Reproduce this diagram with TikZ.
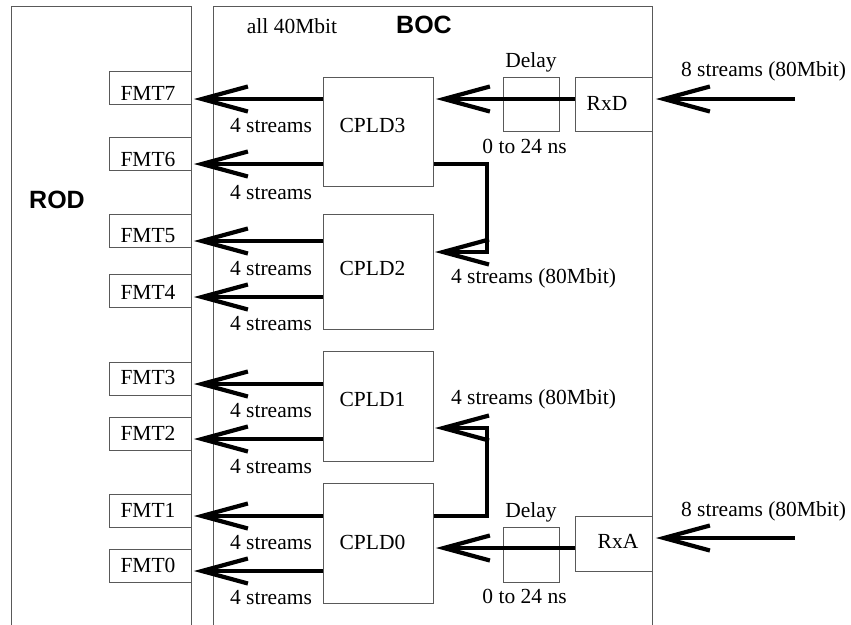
\documentclass[tikz,border=0pt]{standalone}
\usepackage{fontspec}
\setmainfont{Liberation Serif}
\newfontfamily\headfont{Liberation Sans}
\usetikzlibrary{arrows.meta}

\begin{document}
\begin{tikzpicture}[x=1pt,y=-1pt,
  frame/.style={draw=black!65, line width=0.9pt, inner sep=0pt, anchor=north west},
  txt/.style={inner sep=0pt, anchor=base, font=\fontsize{21.5}{24}\selectfont},
  head/.style={inner sep=0pt, anchor=base, font=\headfont\bfseries\fontsize{25}{28}\selectfont},
  flow/.style={line width=4pt, line join=miter,
    -{Straight Barb[length=46pt,width=25pt,line width=4.2pt]}},
]
\path[use as bounding box] (0,0) rectangle (851,624);

% outer boards (open towards the bottom edge)
\node[frame, minimum width=180pt, minimum height=650pt] (rod) at (11,6) {};
\node[frame, minimum width=439pt, minimum height=650pt] (boc) at (213,6) {};
\node[head] (rodlab) at (57,208) {ROD};
\node[head] (boclab) at (424,33) {BOC};
\node[txt] (clk) at (292,33) {all 40Mbit};

% formatter inputs on the ROD
\foreach \n/\top in {7/71,6/137,5/214,4/274,3/362,2/417,1/494,0/549}
  \node[frame, minimum width=82pt, minimum height=33pt] (fmt\n) at (109,\top) {};
\foreach \n/\bl in {7/100,6/166,5/242,4/299,3/384,2/440,1/517,0/572}
  \node[txt] (fmtlab\n) at (148,\bl) {FMT\n};

% CPLDs
\node[frame, minimum width=110pt, minimum height=109pt] (cpld3) at (323,77) {};
\node[frame, minimum width=110pt, minimum height=115pt] (cpld2) at (323,214) {};
\node[frame, minimum width=110pt, minimum height=110pt] (cpld1) at (323,351) {};
\node[frame, minimum width=110pt, minimum height=120pt] (cpld0) at (323,483) {};
\node[txt] (cpldlab3) at (372.5,132) {CPLD3};
\node[txt] (cpldlab2) at (372.5,275) {CPLD2};
\node[txt] (cpldlab1) at (372.5,406) {CPLD1};
\node[txt] (cpldlab0) at (372.5,549) {CPLD0};

% receivers and delay stages
\node[frame, minimum width=56pt, minimum height=54pt] (dlyd) at (503,77) {};
\node[frame, minimum width=77pt, minimum height=54pt] (rxd) at (575,77) {};
\node[frame, minimum width=56pt, minimum height=55pt] (dlya) at (503,527) {};
\node[frame, minimum width=77pt, minimum height=55pt] (rxa) at (575,516) {};
\node[txt] (rxdlab) at (607,110) {RxD};
\node[txt] (rxalab) at (618,548) {RxA};
\node[txt] (dlydlab) at (531,67) {Delay};
\node[txt] (dlyalab) at (531,517) {Delay};
\node[txt] (rngd) at (524.5,153) {0 to 24 ns};
\node[txt] (rnga) at (524.5,603) {0 to 24 ns};

% arrow rows
\coordinate (r7) at (0,99);   \coordinate (r6) at (0,164);
\coordinate (r5) at (0,241);  \coordinate (r4) at (0,297);
\coordinate (r3) at (0,384);  \coordinate (r2) at (0,439);
\coordinate (r1) at (0,516);  \coordinate (r0) at (0,571);

% CPLD outputs to the formatters
\draw[flow] (cpld3.west |- r7) -- ([xshift=2pt]fmt7.east |- r7);
\draw[flow] (cpld3.west |- r6) -- ([xshift=2pt]fmt6.east |- r6);
\draw[flow] (cpld2.west |- r5) -- ([xshift=2pt]fmt5.east |- r5);
\draw[flow] (cpld2.west |- r4) -- ([xshift=2pt]fmt4.east |- r4);
\draw[flow] (cpld1.west |- r3) -- ([xshift=2pt]fmt3.east |- r3);
\draw[flow] (cpld1.west |- r2) -- ([xshift=2pt]fmt2.east |- r2);
\draw[flow] (cpld0.west |- r1) -- ([xshift=2pt]fmt1.east |- r1);
\draw[flow] (cpld0.west |- r0) -- ([xshift=2pt]fmt0.east |- r0);
\foreach \n/\bl in {7/132,6/199,5/275,4/330,3/417,2/473,1/549,0/604}
  \node[txt] (slab\n) at (271,\bl) {4 streams};

% incoming links
\coordinate (ind) at (795,99);
\coordinate (ina) at (795,538);
\draw[flow] (ind) -- ([xshift=3pt]rxd.east |- ind);
\draw[flow] (ina) -- ([xshift=3pt]rxa.east |- ina);
\node[txt] (lnkd) at (763.5,76) {8 streams (80Mbit)};
\node[txt] (lnka) at (763.5,516) {8 streams (80Mbit)};

% receivers through the delays into the CPLDs
\draw[flow] (rxd.west |- r7) -- ([xshift=2pt]cpld3.east |- r7);
\coordinate (ra) at (0,548);
\draw[flow] (rxa.west |- ra) -- ([xshift=2pt]cpld0.east |- ra);

% forwarded half-links
\coordinate (j3) at (487,164);
\coordinate (t2) at (435,252);
\draw[flow] (cpld3.east |- j3) -- (j3) |- (t2);
\coordinate (j0) at (487,516);
\coordinate (t1) at (435,428);
\draw[flow] (cpld0.east |- j0) -- (j0) |- (t1);
\node[txt] (fwd2) at (533.5,283) {4 streams (80Mbit)};
\node[txt] (fwd1) at (533.5,404) {4 streams (80Mbit)};
\end{tikzpicture}
\end{document}
